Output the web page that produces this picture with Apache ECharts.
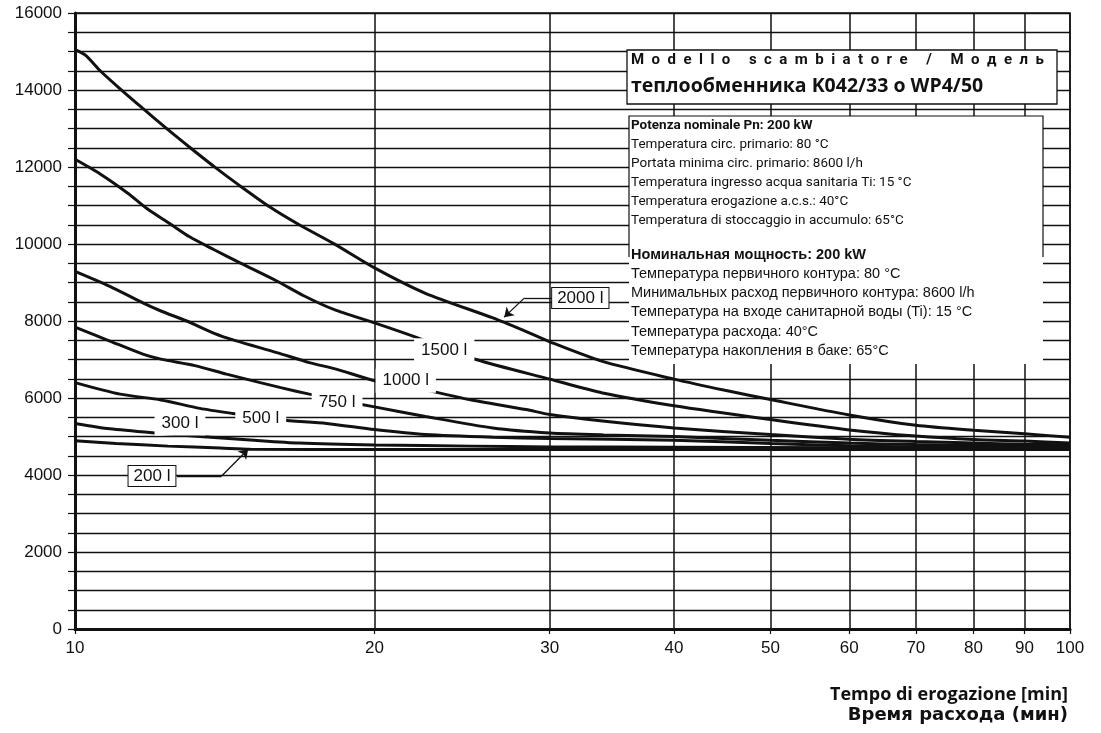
<!DOCTYPE html>
<html>
<head>
<meta charset="utf-8">
<script src="https://cdn.jsdelivr.net/npm/echarts@6/dist/echarts.min.js"></script>
<style>
  html, body { margin: 0; padding: 0; background: #fff; }
  #chart { width: 1101px; height: 733px; }
</style>
</head>
<body>
<div id="chart"></div>
<script>
// minutes of delivery vs litres/hour, one curve per storage volume
const xTicks = [10, 20, 30, 40, 50, 60, 70, 80, 90, 100]
const yLabelStep = 2000

const curve2000 = [[10, 15050], [10.25, 14900], [10.6, 14500], [11.1, 14030], [11.7, 13520], [12.4, 12970], [13, 12540], [13.8, 12010], [14.65, 11510], [15.7, 10960], [16.8, 10500], [18.2, 10010], [20, 9380], [22.5, 8720], [26.3, 8080], [28.2, 7760], [30, 7460], [33.9, 6950], [40, 6490], [45, 6200], [50, 5960], [60, 5560], [70, 5290], [80, 5160], [90, 5070], [100, 4980]]
const curve1500 = [[10, 12200], [10.6, 11820], [11.3, 11320], [11.8, 10930], [12.5, 10500], [13.05, 10180], [13.8, 9850], [14.65, 9510], [15.95, 9040], [17, 8650], [18.2, 8300], [20, 7950], [22, 7580], [25.3, 7000], [30, 6490], [33.9, 6130], [40, 5800], [50, 5440], [60, 5170], [70, 5010], [80, 4920], [90, 4880], [100, 4830]]
const curve1000 = [[10, 9290], [10.84, 8900], [11.7, 8470], [12.2, 8260], [12.95, 8000], [13.8, 7680], [14.5, 7490], [15.95, 7180], [17.2, 6920], [18.3, 6750], [20, 6450], [22.4, 6220], [24.9, 5960], [28.4, 5700], [30, 5570], [33.9, 5400], [40, 5220], [50, 5050], [60, 4930], [70, 4870], [80, 4830], [90, 4800], [100, 4780]]
const curve750 = [[10, 7840], [10.84, 7480], [11.7, 7140], [12.2, 7010], [13.2, 6840], [14.2, 6620], [15.35, 6400], [16.1, 6270], [17.2, 6100], [18.5, 5930], [20, 5770], [22.5, 5520], [26.3, 5220], [30, 5090], [34, 5040], [40, 5000], [50, 4900], [60, 4830], [70, 4790], [80, 4770], [90, 4750], [100, 4740]]
const curve500 = [[10, 6400], [11.1, 6100], [12.2, 5950], [13.35, 5730], [14.4, 5600], [16.1, 5430], [17.9, 5340], [20, 5180], [22.5, 5050], [26.3, 4980], [30, 4950], [40, 4900], [50, 4820], [60, 4760], [70, 4730], [80, 4720], [90, 4710], [100, 4700]]
const curve300 = [[10, 5340], [10.84, 5200], [12.2, 5080], [13.35, 5000], [15, 4910], [16.8, 4830], [20, 4780], [25, 4750], [30, 4730], [40, 4720], [60, 4710], [100, 4700]]
const curve200 = [[10, 4890], [11, 4820], [12.4, 4750], [14, 4700], [15, 4670], [20, 4660], [30, 4660], [50, 4660], [100, 4660]]

const curveNames = ["2000 l", "1500 l", "1000 l", "750 l", "500 l", "300 l", "200 l"]
const curves = [curve2000, curve1500, curve1000, curve750, curve500, curve300, curve200]

// where each volume label sits, in chart units [min, l/h]
const labelSpots = [[32.2, 8600], [23.5, 7240], [21.5, 6450], [18.34, 5880], [15.37, 5470], [12.75, 5340], [11.95, 3975]]
const boxedLabels = ["2000 l", "200 l"]

// leader lines: [from, elbow, arrow tip]
const leader2000 = [[30.2, 8600], [28.3, 8600], [27.0, 8100]]
const leader200 = [[12.66, 3975], [14.04, 3975], [14.93, 4667]]

const titleLines = ["M  o  d  e  l  l  o     s  c  a  m  b  i  a  t  o  r  e     /     М  о  д  е  л  ь", "теплообменника K042/33 o WP4/50"]
const infoIt = ["Potenza nominale Pn: 200 kW", "Temperatura circ. primario: 80 °C", "Portata minima circ. primario: 8600 l/h", "Temperatura ingresso acqua sanitaria Ti: 15 °C", "Temperatura erogazione a.c.s.: 40°C", "Temperatura di stoccaggio in accumulo: 65°C"]
const infoRu = ["Номинальная мощность: 200 kW", "Температура первичного контура: 80 °C", "Минимальных расход первичного контура: 8600 l/h", "Температура на входе санитарной воды (Ti): 15 °C", "Температура расхода: 40°C", "Температура накопления в баке: 65°C"]
const axisNameIt = "Tempo di erogazione [min]"
const axisNameRu = "Время расхода (мин)"

const ink = "#111"
const arial = "'Liberation Sans', Arial, sans-serif"
const din = "Roboto, 'DejaVu Sans', sans-serif"
const wide = "'Open Sans', 'DejaVu Sans', sans-serif"

function leaderLines(pts) {
  return [
    [{ coord: pts[0], symbol: "none" }, { coord: pts[1], symbol: "none" }],
    [{ coord: pts[1], symbol: "none" }, { coord: pts[2], symbol: "arrow" }]
  ]
}

function infoTexts() {
  const items = []
  infoIt.forEach((t, i) => {
    items.push({ type: "text", left: 631, top: 119 + i * 19, z: 21,
      style: { text: t, fill: ink, font: (i === 0 ? "bold " : "") + "13.5px " + din } })
  })
  infoRu.forEach((t, i) => {
    items.push({ type: "text", left: 631, top: 247 + i * 19.3, z: 21,
      style: { text: t, fill: ink, font: (i === 0 ? "bold " : "") + "14.5px " + arial } })
  })
  return items
}

const chart = echarts.init(document.getElementById("chart"), null, { renderer: "canvas" })

const lineSeries = curves.map((data, i) => ({
  name: curveNames[i],
  type: "line",
  data,
  smooth: 0.25,
  showSymbol: false,
  silent: true,
  z: 3,
  lineStyle: { color: ink, width: 3 }
}))

const labelSeries = {
  type: "scatter",
  data: [],
  z: 10,
  silent: true,
  markPoint: {
    symbol: "rect",
    symbolSize: 1,
    itemStyle: { color: "rgba(0,0,0,0)" },
    label: { show: true, position: "inside", color: ink, fontFamily: arial, fontSize: 17 },
    data: curveNames.map((name, i) => {
      const boxed = boxedLabels.includes(name)
      return {
        coord: labelSpots[i],
        label: {
          formatter: name,
          backgroundColor: "#fff",
          borderColor: boxed ? ink : "transparent",
          borderWidth: boxed ? 1 : 0,
          padding: boxed ? [2, 5, 1, 5] : [4, 7, 3, 7]
        }
      }
    })
  },
  markLine: {
    silent: true,
    symbolSize: 9,
    label: { show: false },
    lineStyle: { color: ink, width: 1.3, type: "solid" },
    data: [...leaderLines(leader2000), ...leaderLines(leader200)]
  }
}

chart.setOption({
  backgroundColor: "#fff",
  animation: false,
  grid: { left: 75, right: 31, top: 13, bottom: 104, show: true, borderColor: ink, borderWidth: 1.5 },
  xAxis: {
    type: "log",
    logBase: 10,
    min: 10,
    max: 100,
    axisLine: { lineStyle: { color: ink, width: 3 } },
    axisTick: { show: true, customValues: xTicks, length: 5, lineStyle: { color: ink, width: 1.2 } },
    axisLabel: { customValues: xTicks, color: ink, fontFamily: arial, fontSize: 17, margin: 11 },
    splitLine: { show: true, lineStyle: { color: ink, width: 1.5 } },
    minorTick: { show: false },
    minorSplitLine: { show: false }
  },
  yAxis: {
    type: "value",
    min: 0,
    max: 16000,
    interval: 500,
    axisLine: { show: true, lineStyle: { color: ink, width: 3 } },
    axisTick: { show: true, length: 7, lineStyle: { color: ink, width: 1.2 } },
    axisLabel: {
      color: ink, fontFamily: arial, fontSize: 17, margin: 13,
      formatter: (v) => (v % yLabelStep === 0 ? String(v) : "")
    },
    splitLine: { show: true, lineStyle: { color: ink, width: 1.4 } }
  },
  series: [...lineSeries, labelSeries],
  graphic: [
    { type: "rect", shape: { x: 627, y: 50, width: 430, height: 54 }, z: 20,
      style: { fill: "#fff", stroke: ink, lineWidth: 1.3 } },
    { type: "text", left: 631, top: 53, z: 21, style: { text: titleLines[0], fill: ink, font: "bold 15px " + din } },
    { type: "text", left: 631, top: 76, z: 21, style: { text: titleLines[1], fill: ink, font: "bold 19.5px " + wide } },
    { type: "rect", shape: { x: 629, y: 116, width: 414, height: 248 }, z: 20,
      style: { fill: "#fff", stroke: null } },
    { type: "polyline", shape: { points: [[629, 257], [629, 116], [1043, 116], [1043, 257]] }, z: 21,
      style: { stroke: ink, lineWidth: 1.2, fill: null } },
    ...infoTexts(),
    { type: "text", right: 33, top: 686, style: { text: axisNameIt, fill: ink, font: "bold 18px " + wide } },
    { type: "text", right: 33, top: 706, style: { text: axisNameRu, fill: ink, font: "bold 18px 'DejaVu Sans', sans-serif" } }
  ]
})
</script>
</body>
</html>
